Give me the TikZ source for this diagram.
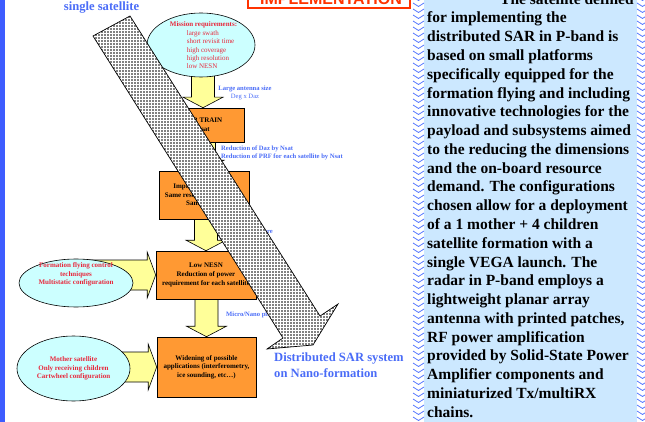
\documentclass[tikz,border=0pt]{standalone}
\usepackage{fontspec}
\setmainfont{Liberation Serif}
\newfontfamily\headfont{Liberation Sans}
\definecolor{sarBlue}{HTML}{4A6CF7}
\definecolor{sarBar}{HTML}{3D5CFF}
\definecolor{sarRed}{HTML}{E8283C}
\definecolor{sarTitle}{HTML}{FF3300}
\definecolor{sarCyan}{HTML}{CCFFFF}
\definecolor{sarOrange}{HTML}{FF9933}
\definecolor{sarYellow}{HTML}{FFFF99}
\definecolor{sarPanel}{HTML}{CCE8FF}
\definecolor{sarChev}{HTML}{5577FF}
\usepackage{tikz}
\usetikzlibrary{shapes.geometric, arrows.meta, positioning, calc,
  backgrounds, patterns.meta}
\newcommand{\fatdown}[2]{\draw[fatarr] let \p1=(#1), \p2=(#2) in
  (\x2-11.5pt,\y1) -- (\x2+11.5pt,\y1) -- (\x2+11.5pt,\y2+10.5pt) -- (\x2+20pt,\y2+10.5pt)
  -- (\x2,\y2) -- (\x2-20pt,\y2+10.5pt) -- (\x2-11.5pt,\y2+10.5pt) -- cycle;}
\newcommand{\fatright}[2]{\draw[fatarr] let \p1=(#1), \p2=(#2) in
  (\x1,\y2+15pt) -- (\x2-8.5pt,\y2+15pt) -- (\x2-8.5pt,\y2+23pt) -- (\x2,\y2)
  -- (\x2-8.5pt,\y2-23pt) -- (\x2-8.5pt,\y2-15pt) -- (\x1,\y2-15pt) -- cycle;}

\begin{document}
\begin{tikzpicture}[x=1pt, y=-1pt,
  req/.style={ellipse, draw, fill=sarCyan, line width=0.6pt, inner sep=0pt},
  reqtxt/.style={text=sarRed, inner sep=0pt, font=\fontsize{7}{8.4}\selectfont},
  blk/.style={draw, fill=sarOrange, line width=0.6pt, align=center, inner sep=0pt,
    font=\fontsize{7}{8.6}\selectfont\bfseries},
  lbl/.style={text=sarBlue, inner sep=0pt, font=\fontsize{6.6}{8}\selectfont\bfseries},
  chev/.style={sarChev, line width=0.8pt},
  fatarr/.style={draw, fill=sarYellow, line width=0.6pt, line join=miter}]
  \useasboundingbox (0,0) rectangle (645,422);
  \clip (0,0) rectangle (645,422);
  \fill[sarBar] (0,0) rectangle (5,422);
  % text panel on the right
  \fill[sarPanel] (424,0) rectangle (637,422);
  \foreach \cy in {-3,3,...,423} {
    \draw[chev] (413,\cy) -- (418.5,\cy+3.5) -- (424,\cy);
    \draw[chev] (637,\cy) -- (642.5,\cy+3.5) -- (648,\cy);
  }
  \node[anchor=south west, inner sep=0pt, align=left,
    font=\fontsize{15.5}{18.78}\selectfont\bfseries] (desc) at (427,417.7) {
    \hspace*{73pt}The satellite defined\\ for implementing the\\
    distributed SAR in P-band is\\ based on small platforms\\
    specifically equipped for the\\ formation flying and including\\
    innovative technologies for the\\ payload and subsystems aimed\\
    to the reducing the dimensions\\ and the on-board resource\\
    demand. The configurations\\ chosen allow for a deployment\\
    of a 1 mother + 4 children\\ satellite formation with a\\
    single VEGA launch. The\\ radar in P-band employs a\\
    lightweight planar array\\ antenna with printed patches,\\
    RF power amplification\\ provided by Solid-State Power\\
    Amplifier components and\\ miniaturized Tx/multiRX\\ chains.};
  \draw[sarTitle, line width=2.5pt, fill=white] (248,-20) rectangle (410,8);
  \node[anchor=base, text=sarTitle, inner sep=0pt,
    font=\headfont\bfseries\fontsize{16}{18}\selectfont] (title) at (331,5) {IMPLEMENTATION};
  \node[anchor=base, text=sarBlue, inner sep=0pt,
    font=\fontsize{12.6}{16}\selectfont\bfseries] (single) at (101.5,11) {single satellite};

  \node[req, minimum width=108, minimum height=64] (mission) at (201,45) {};
  \node[reqtxt, align=left] (missiontxt) at (203.5,45.5) {\textbf{Mission requirements:}\\
    \hspace*{17pt}large swath\\ \hspace*{17pt}short revisit time\\
    \hspace*{17pt}high coverage\\ \hspace*{17pt}high resolution\\ \hspace*{17pt}low NESN};
  \node[blk, minimum width=82, minimum height=34] (train) at (203,125) {SAR TRAIN\\Nsat};
  \node[blk, minimum width=90, minimum height=48] (impr) at (204,195)
    {Improved sensitivity\\Same resolution with Nsat\\Same swath};
  \node[blk, minimum width=100, minimum height=48] (lownesn) at (206,275)
    {Low NESN\\Reduction of power\\requirement for each satellite};
  \node[blk, minimum width=99, minimum height=60] (widen) at (206.5,367)
    {Widening of possible\\applications (interferometry,\\ice sounding, etc…)};

  \node[req, minimum width=114, minimum height=48] (form) at (76,283) {};
  \node[reqtxt, align=center, font=\fontsize{7}{8.8}\selectfont\bfseries] (formtxt) at (76,274.5)
    {Formation flying control\\techniques\\Multistatic configuration};
  \node[req, minimum width=113, minimum height=65] (mother) at (73.5,368.5) {};
  \node[reqtxt, align=center, font=\fontsize{7}{8.8}\selectfont\bfseries] (mothertxt) at (73.5,368.5)
    {Mother satellite\\Only receiving children\\Cartwheel configuration};

  \node[lbl, align=center] (antlbl) at (245,93) {Large antenna size\\{\mdseries Deg x Daz}};
  \node[lbl, align=left, anchor=west] (redlbl) at (221,153)
    {Reduction of Daz by Nsat\\Reduction of PRF for each satellite by Nsat};
  \node[lbl, anchor=base east] (aperlbl) at (273,233.5) {Shared aperture};
  \node[lbl, anchor=base west] (microlbl) at (226,316.5) {Micro/Nano platforms};
  \node[anchor=north west, align=left, inner sep=0pt, text=sarBlue,
    font=\fontsize{12.6}{16}\selectfont\bfseries] (dsar) at (274,352.4)
    {Distributed SAR system\\on Nano-formation};

  \begin{scope}[on background layer]
    \fatdown{mission.center}{train.north}
    \fatdown{train.center}{impr.north}
    \fatdown{impr.center}{lownesn.north}
    \fatdown{lownesn.center}{widen.north}
    \fatright{form.center}{lownesn.west}
    \fatright{mother.center}{widen.west}
  \end{scope}

  % single satellite -> distributed SAR
  \draw[line width=0.7pt, preaction={fill=white}, pattern={Dots[distance=3pt, radius=0.85pt]}]
    (93,36) -- (130,16) -- (320,316) -- (338,304) -- (313,345) -- (267,349) -- (283,338) -- cycle;
\end{tikzpicture}
\end{document}
